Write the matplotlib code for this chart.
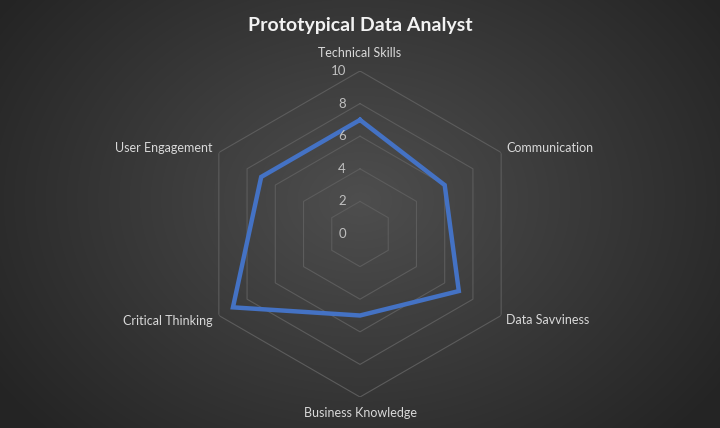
import numpy as np
import matplotlib
matplotlib.use("Agg")
import matplotlib.pyplot as plt

categories = ["Technical Skills", "Communication", "Data Savviness",
              "Business Knowledge", "Critical Thinking", "User Engagement"]
values = [7, 6, 7, 5, 9, 7]
ticks = [0, 2, 4, 6, 8, 10]
title = "Prototypical Data Analyst"

plt.rcParams['font.family'] = ['Lato', 'DejaVu Sans']

W, H, DPI = 720, 428, 100
fig = plt.figure(figsize=(W / DPI, H / DPI), dpi=DPI)

# background radial gradient
bg = fig.add_axes([0, 0, 1, 1])
yy, xx = np.mgrid[0:H, 0:W]
cx, cy = 360, 200
d = np.sqrt(((xx - cx) / 430.0) ** 2 + ((yy - cy) / 330.0) ** 2)
d = np.clip(d, 0, 1)
c_in = np.array([0x4e, 0x4e, 0x4e]) / 255
c_out = np.array([0x25, 0x25, 0x25]) / 255
img = c_in[None, None, :] * (1 - d[..., None]) + c_out[None, None, :] * d[..., None]
bg.imshow(img, aspect='auto', extent=[0, 1, 0, 1], origin='upper')
bg.set_axis_off()

R = 163
cxp, cyp = 360, 234
ax = fig.add_axes([(cxp - R) / W, (H - cyp - R) / H, 2 * R / W, 2 * R / H],
                  projection='polar')
ax.set_theta_offset(np.pi / 2)
ax.set_theta_direction(-1)
ax.patch.set_alpha(0)
ax.spines['polar'].set_visible(False)
ax.grid(False)
ax.set_xticks([])
ax.set_yticks([])
ax.set_ylim(0, 10)

n = len(categories)
angles = np.linspace(0, 2 * np.pi, n, endpoint=False)
ang_closed = np.concatenate([angles, angles[:1]])

gridc = '#5c5c5c'
for t in ticks[1:]:
    ax.plot(ang_closed, [t] * (n + 1), color=gridc, lw=0.8, zorder=1)

ax.plot(ang_closed, values + values[:1], color='#4472C4', lw=3.2,
        solid_joinstyle='miter', zorder=3)

for t in ticks:
    ax.annotate(str(t), xy=(0, t), xytext=(-14, 0), textcoords='offset pixels',
                ha='right', va='center', color='#bfbfbf', fontsize=9.5, zorder=4)

offsets = [(0, 18, 'center', 'center'), (5, 5, 'left', 'center'),
           (5, -5, 'left', 'center'), (0, -16, 'center', 'center'),
           (-6, -5, 'right', 'center'), (-6, 5, 'right', 'center')]
for a, lab, (dx, dy, ha, va) in zip(angles, categories, offsets):
    ax.annotate(lab, xy=(a, ticks[-1]), xytext=(dx, dy), textcoords='offset pixels',
                ha=ha, va=va, color='#d9d9d9', fontsize=9)

fig.text(0.5, 1 - 25 / H, title, ha='center', va='center', color='#f2f2f2',
         fontsize=14, fontweight='bold')

fig.savefig('out.png', dpi=DPI)
